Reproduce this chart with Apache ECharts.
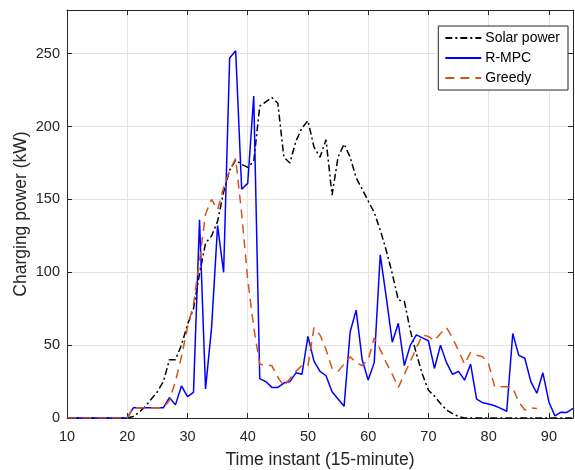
<!DOCTYPE html>
<html>
<head>
<meta charset="utf-8">
<script src="https://cdn.jsdelivr.net/npm/echarts@6/dist/echarts.min.js"></script>
<style>html,body{margin:0;padding:0;background:#fff}#c{width:575px;height:470px}</style>
</head>
<body>
<div id="c"></div>
<script>
const timeSteps = [];
for (let t = 10; t <= 94; t++) timeSteps.push(t);

const solarPower = [
  0,0,0,0,0,0,0,0,0,0,0,          // 10-20
  1,4,8,13,18,25,40,40,50,64,      // 21-30
  75,99,120,125,135,155,170,177,174,172, // 31-40
  176,214,217,220,216,179,175,190,199,204, // 41-50
  186,179,191,153,179,188,179,165,157,149, // 51-60
  141,129,115,99,81,80,60,44,30,19, // 61-70
  15,10,5.5,3,1,0,0,0,0,0,         // 71-80
  0,0,0,0,0,0,0,0,0,0,             // 81-90
  0,0,0,0                          // 91-94
];

const rmpcPower = [
  0,0,0,0,0,0,0,0,0,0,0,
  7,7,7,7,7,7,14,9,22,14.6,
  17.6,136,20,62,132,100,247,252,157,161,
  221,27,25,21,21,24,25,31,30,56,
  39,32,29,18,13,8,59,74,40,26,
  38,112,83,52,65,36,50,57,55,53,
  34,50,38,30,32,26,37,13,10.5,9.6,
  8.4,6.6,4.6,58,43,41,25,17,31,11,
  1.4,4,3.8,6.6
];

const greedyPower = [
  0,0,0,0,0,0,0,0,0,0,0,
  7,7,7,7,7,7,12,25,42,62,
  78,108,140,150,143,158,170,178,140,95,
  62,37,36,36,28,22,27,32,36,36,
  62,57,47,34,32,37,42,38,36,40,
  55,47,38,30,21,30,39,48,57,56,
  53,58,62,55,46,37,45,43,42,37,
  21.5,21.5,21.5,20.5,11,5.5,7,6.5,null,null,
  null,null,null,null
];

const xTicks = [10,20,30,40,50,60,70,80,90];
const yTicks = [0,50,100,150,200,250];

const pair = arr => timeSteps.map((t, i) => [t, arr[i]]);

const textColor = '#262626';
const font = 'Arial, "Liberation Sans", Helvetica, sans-serif';

const chart = echarts.init(document.getElementById('c'), null, {renderer: 'canvas'});
chart.setOption({
  animation: false,
  backgroundColor: '#fff',
  grid: {left: 67, right: 2, top: 10, bottom: 52, containLabel: false, outerBoundsMode: 'none'},
  legend: {
    orient: 'vertical',
    right: 7,
    top: 26,
    padding: [5, 8, 5, 6],
    itemGap: 6,
    itemWidth: 36,
    itemHeight: 13,
    borderColor: '#262626',
    borderWidth: 1,
    backgroundColor: '#fff',
    itemStyle: {opacity: 0},
    textStyle: {fontFamily: font, fontSize: 14, color: '#000', padding: [0, 0, 0, -1]},
    data: ['Solar power', 'R-MPC', 'Greedy']
  },
  xAxis: [{
    type: 'value', min: 10, max: 94, interval: 10, position: 'bottom',
    name: 'Time instant (15-minute)', nameLocation: 'middle', nameGap: 33,
    nameTextStyle: {fontFamily: font, fontSize: 17.5, color: textColor},
    axisLine: {show: true, onZero: false, lineStyle: {color: textColor, width: 1}},
    axisTick: {show: true, inside: true, length: 5, lineStyle: {color: textColor}},
    axisLabel: {fontFamily: font, fontSize: 14.5, color: textColor, margin: 11,
      formatter: v => xTicks.indexOf(v) >= 0 ? String(v) : ''},
    splitLine: {show: true, lineStyle: {color: '#e3e3e3', width: 1}}
  }, {
    type: 'value', min: 10, max: 94, interval: 10, position: 'top',
    axisLine: {show: true, onZero: false, lineStyle: {color: textColor, width: 1}},
    axisTick: {show: true, inside: true, length: 5, lineStyle: {color: textColor}},
    axisLabel: {show: false}, splitLine: {show: false}
  }],
  yAxis: [{
    type: 'value', min: 0, max: 280, interval: 50, position: 'left',
    name: 'Charging power (kW)', nameLocation: 'middle', nameGap: 37,
    nameMoveOverlap: false,
    nameTextStyle: {fontFamily: font, fontSize: 17.5, color: textColor},
    axisLine: {show: true, onZero: false, lineStyle: {color: textColor, width: 1}},
    axisTick: {show: true, inside: true, length: 5, lineStyle: {color: textColor}},
    axisLabel: {fontFamily: font, fontSize: 14.5, color: textColor, margin: 7,
      formatter: v => yTicks.indexOf(v) >= 0 ? String(v) : ''},
    splitLine: {show: true, lineStyle: {color: '#e3e3e3', width: 1}}
  }, {
    type: 'value', min: 0, max: 280, interval: 50, position: 'right',
    axisLine: {show: true, onZero: false, lineStyle: {color: textColor, width: 1}},
    axisTick: {show: true, inside: true, length: 5, lineStyle: {color: textColor}},
    axisLabel: {show: false}, splitLine: {show: false}
  }],
  series: [{
    name: 'Solar power', type: 'line', xAxisIndex: 0, yAxisIndex: 0,
    data: pair(solarPower), symbol: 'circle', showSymbol: false, color: '#000',
    lineStyle: {color: '#000', width: 1.5, type: [7, 3, 2, 3]}
  }, {
    name: 'R-MPC', type: 'line', xAxisIndex: 0, yAxisIndex: 0,
    data: pair(rmpcPower), symbol: 'circle', showSymbol: false, color: '#0000ff',
    lineStyle: {color: '#0000ff', width: 1.5, type: 'solid'}
  }, {
    name: 'Greedy', type: 'line', xAxisIndex: 0, yAxisIndex: 0,
    data: pair(greedyPower), symbol: 'circle', showSymbol: false, color: '#d95319', connectNulls: false,
    lineStyle: {color: '#d95319', width: 1.5, type: [9, 6]}
  }]
});
</script>
</body>
</html>
